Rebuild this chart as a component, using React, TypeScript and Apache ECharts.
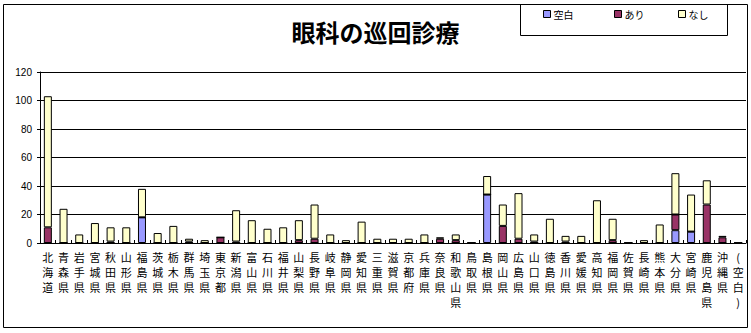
import React, { useEffect, useRef } from "react";
import * as echarts from "echarts";

const categories = [
  "北海道", "青森県", "岩手県", "宮城県", "秋田県", "山形県", "福島県", "茨城県", "栃木県",
  "群馬県", "埼玉県", "東京都", "新潟県", "富山県", "石川県", "福井県", "山梨県", "長野県",
  "岐阜県", "静岡県", "愛知県", "三重県", "滋賀県", "京都府", "兵庫県", "奈良県", "和歌山県",
  "鳥取県", "島根県", "岡山県", "広島県", "山口県", "徳島県", "香川県", "愛媛県", "高知県",
  "福岡県", "佐賀県", "長崎県", "熊本県", "大分県", "宮崎県", "鹿児島県", "沖縄県", "(空白)",
];

const blankValues = [
  0, 0, 0, 0, 0, 0, 18, 0, 0,
  0, 0, 0, 0, 0, 0, 0, 0, 0,
  0, 0, 0, 0, 0, 0, 0, 0, 0,
  0, 34, 0, 0, 0, 0, 0, 0, 0,
  0, 0, 0, 0, 9, 8, 0, 0, 0,
];

const ariValues = [
  11, 0, 0, 0, 1, 0, 0, 0, 0,
  1, 0, 4, 1, 0, 0, 0, 2, 3,
  0, 0, 0, 0, 0, 0, 0, 3, 2,
  0, 0, 12, 3, 1, 0, 1, 0, 0,
  2, 0, 0, 0, 11, 0, 27, 4, 0,
];

const nashiValues = [
  92, 24, 6, 14, 10, 11, 20, 7, 12,
  2, 2, 0, 22, 16, 10, 11, 14, 24,
  6, 2, 15, 3, 3, 3, 6, 1, 4,
  0, 13, 15, 32, 5, 17, 4, 5, 30,
  15, 0, 2, 13, 29, 26, 17, 1, 0,
];

const yTicks = { min: 0, max: 120, interval: 20 };

const seriesNames = ["空白", "あり", "なし"];
const seriesColors = ["#9999FF", "#993366", "#FFFFCC"];

export default function App() {
  const ref = useRef<HTMLDivElement>(null);

  useEffect(() => {
    if (!ref.current) return;
    const chart = echarts.init(ref.current, null, { renderer: "svg" });
    const dataSets = [blankValues, ariValues, nashiValues];
    const legendLefts = [543, 614, 678];

    chart.setOption({
      animation: false,
      backgroundColor: "#ffffff",
      textStyle: { fontFamily: "'Noto Sans CJK JP', sans-serif", color: "#000" },
      title: {
        text: "眼科の巡回診療",
        left: "center",
        top: 14,
        textStyle: {
          fontSize: 24,
          fontWeight: "bold",
          color: "#000",
          fontFamily: "'Noto Sans CJK JP', sans-serif",
        },
      },
      legend: seriesNames.map((name, i) => ({
        data: [name],
        left: legendLefts[i],
        top: 9,
        padding: 0,
        itemWidth: 7,
        itemHeight: 7,
        itemGap: 0,
        icon: "rect",
        itemStyle: { borderColor: "#000", borderWidth: 1 },
        textStyle: { fontSize: 10, color: "#000", padding: [0, 0, 0, -2] },
      })),
      graphic: [
        {
          type: "rect",
          shape: { x: 3.5, y: 4.5, width: 744, height: 323 },
          style: { fill: "none", stroke: "#000", lineWidth: 1 },
          silent: true,
          z: -1,
        },
        {
          type: "rect",
          shape: { x: 520.5, y: 4.5, width: 207, height: 31 },
          style: { fill: "none", stroke: "#000", lineWidth: 1 },
          silent: true,
          z: -1,
        },
      ],
      grid: { left: 40, right: 5, top: 72, bottom: 90, containLabel: false },
      xAxis: {
        type: "category",
        data: categories,
        axisLine: { show: true, lineStyle: { color: "#000", width: 1 } },
        axisTick: { show: true, inside: true, length: 3, lineStyle: { color: "#000" } },
        axisLabel: {
          interval: 0,
          margin: 6,
          fontSize: 11,
          lineHeight: 15,
          color: "#000",
          fontFamily: "'Noto Sans CJK JP', sans-serif",
          formatter: (v: string) => Array.from(v).join("\n"),
        },
      },
      yAxis: {
        type: "value",
        min: yTicks.min,
        max: yTicks.max,
        interval: yTicks.interval,
        axisLine: { show: true, lineStyle: { color: "#000", width: 1 } },
        axisTick: { show: true, length: 3, lineStyle: { color: "#000" } },
        splitLine: { show: true, lineStyle: { color: "#000", width: 1 } },
        axisLabel: {
          fontSize: 10,
          color: "#000",
          margin: 8,
          fontFamily: "'Liberation Sans', Arial, sans-serif",
        },
      },
      series: seriesNames.map((name, i) => ({
        name,
        type: "bar",
        stack: "total",
        barWidth: 8,
        data: dataSets[i],
        itemStyle: { color: seriesColors[i], borderColor: "#000", borderWidth: 1 },
      })),
    });

    return () => chart.dispose();
  }, []);

  return (
    <div
      ref={ref}
      style={{ position: "fixed", left: 0, top: 0, width: 751, height: 333 }}
    />
  );
}
